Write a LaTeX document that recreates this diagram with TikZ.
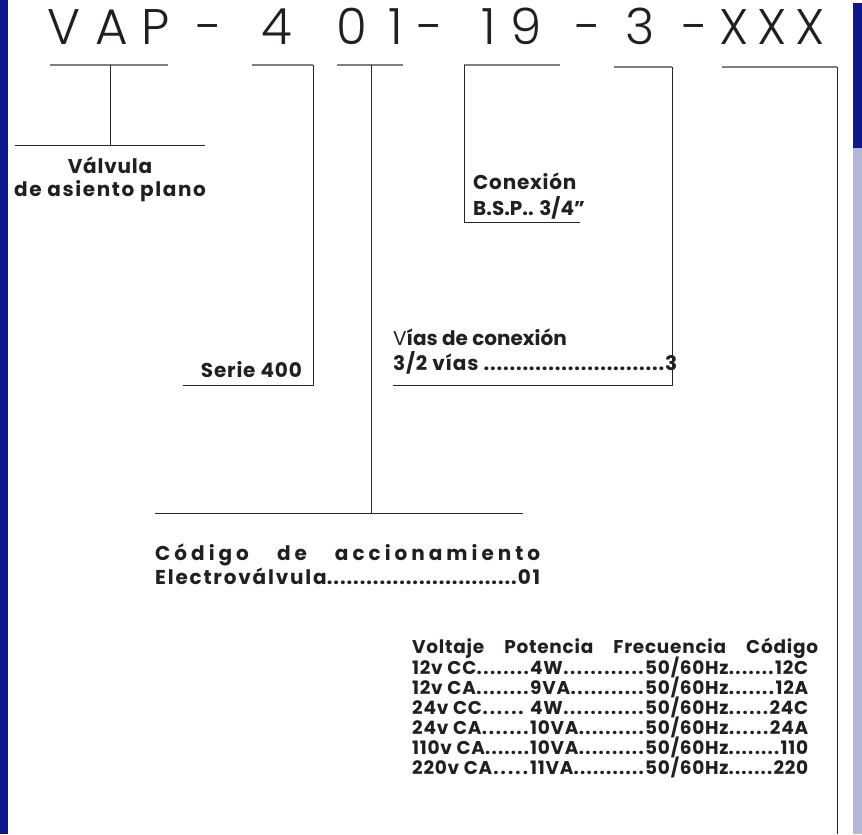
\documentclass[tikz,border=0pt]{standalone}
\usepackage{fontspec}
\setmainfont{Poppins}[LetterSpace=4]
\IfFontExistsTF{Poppins Light}{\newfontfamily\titlefont{Poppins Light}}{\newfontfamily\titlefont{Poppins}}
\definecolor{bandblue}{RGB}{12,26,140}
\definecolor{bandlight}{RGB}{180,182,221}
\definecolor{ink}{RGB}{35,31,32}
\def\dotsfill{\xleaders\hbox to 6.4pt{.\hss}\hfill}
\newcommand\tabrow[4]{\hbox to 396pt{\hbox to 118pt{#1}\hbox to 115pt{#2}#3\dotsfill#4}}
\tikzset{
	titlechar/.style={font=\titlefont\fontsize{50}{50}\selectfont, text=ink, inner sep=0pt, anchor=base},
	lbl/.style={font=\fontsize{20}{22}\selectfont\bfseries, text=ink, inner sep=0pt},
	tbl/.style={font=\fontsize{18.5}{20}\selectfont\bfseries, text=ink, inner sep=0pt, anchor=base west},
	topline/.style={line width=1.3pt, gray},
	lead/.style={line width=1pt, black!85},
}
\begin{document}
\begin{tikzpicture}[x=1pt,y=-1pt]
	\fill[white] (0,0) rectangle (862,834);
	\fill[bandblue] (0,0) rectangle (8,834);
	\fill[bandblue] (853,3) rectangle (862,148);
	\fill[bandlight] (853,148) rectangle (862,834);
	% code letters
	\foreach \cx/\ch [count=\k] in {64/V,112/A,156/P,209/-,277/4,352/0,396/1,430/-,489/1,526/9,588/-,640/3,695/-,734/X,772/X,810/X}
		\node[titlechar] (ch\k) at (\cx,45) {\ch};
	% brackets
	\draw[topline] (50,65) -- (168,65);
	\draw[lead] (110,65) -- (110,146);
	\draw[lead] (15,146) -- (205,146);
	\draw[topline] (252,65) -- (313,65);
	\draw[lead] (313,65) -- (313,385) -- (183,385);
	\draw[topline] (337,65) -- (403,65);
	\draw[lead] (371,65) -- (371,513);
	\draw[lead] (155,513) -- (523,513);
	\draw[topline] (464,65) -- (560,65);
	\draw[lead] (464,65) -- (464,222) -- (580,222);
	\draw[topline] (614,67) -- (672,67);
	\draw[lead] (672,67) -- (672,385) -- (393,385);
	\draw[topline] (722,67) -- (837,67);
	\draw[lead] (837,67) -- (837,834);
	% labels
	\node[lbl, anchor=base] (valvula) at (110,173) {Válvula};
	\node[lbl, anchor=base] (asiento) at (110,196) {\addfontfeatures{LetterSpace=8}de asiento plano};
	\node[lbl, anchor=base east] (serie) at (302,377) {Serie 400};
	\node[lbl, anchor=base west] (conexion) at (473,189) {Conexión};
	\node[lbl, anchor=base west] (bsp) at (473,215) {\addfontfeatures{LetterSpace=0}B.S.P.. 3/4”};
	\node[lbl, anchor=base west] (vias) at (393,345) {\addfontfeatures{LetterSpace=0}{\mdseries V}ías de conexión};
	\node[lbl, anchor=base west] (viasnum) at (393,370) {\hbox to 284pt{3/2 vías \dotsfill3}};
	\node[lbl, anchor=base west] (codigo) at (155,560) {\addfontfeatures{LetterSpace=20}\hbox to 385pt{Código\hfill de\hfill accionamiento}};
	\node[lbl, anchor=base west] (electro) at (155,584) {\addfontfeatures{LetterSpace=9}\hbox to 385pt{Electroválvula\dotsfill01}};
	% table
	\node[tbl] (thead) at (412,653) {\hbox to 406pt{Voltaje\hfill Potencia\hfill Frecuencia\hfill Código}};
	\node[tbl] (row1) at (412,674) {\tabrow{12v CC\dotsfill}{4W\dotsfill}{50/60Hz}{12C}};
	\node[tbl] (row2) at (412,694) {\tabrow{12v CA\dotsfill}{9VA\dotsfill}{50/60Hz}{12A}};
	\node[tbl] (row3) at (412,714) {\tabrow{24v CC\dotsfill\ }{4W\dotsfill}{50/60Hz}{24C}};
	\node[tbl] (row4) at (412,734) {\tabrow{24v CA\dotsfill}{10VA\dotsfill}{50/60Hz}{24A}};
	\node[tbl] (row5) at (412,754) {\tabrow{110v CA\dotsfill}{10VA\dotsfill}{50/60Hz}{110}};
	\node[tbl] (row6) at (412,774) {\tabrow{220v CA\dotsfill}{11VA\dotsfill}{50/60Hz}{220}};
\end{tikzpicture}
\end{document}
